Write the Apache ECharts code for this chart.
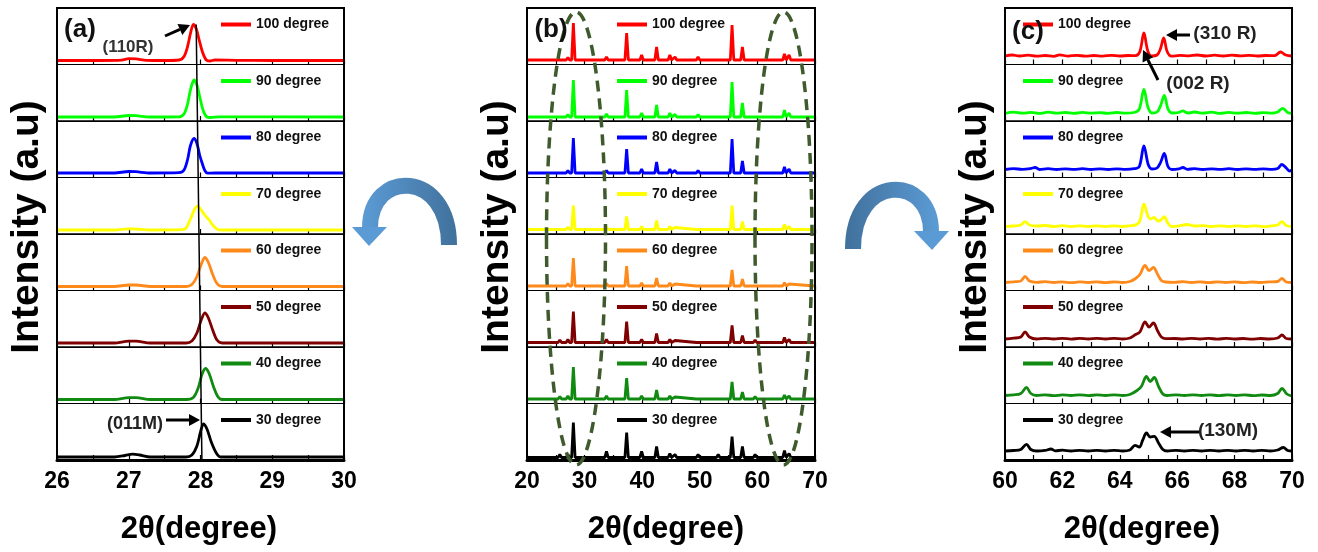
<!DOCTYPE html>
<html><head><meta charset="utf-8">
<script src="https://cdn.jsdelivr.net/npm/echarts@6/dist/echarts.min.js"></script>
<style>html,body{margin:0;padding:0;background:#fff}#c{width:1318px;height:552px}</style>
</head><body><div id="c"></div><script>
// ---------------- DATA ----------------
const temps = ['100 degree','90 degree','80 degree','70 degree','60 degree','50 degree','40 degree','30 degree'];
const colors = ['#ff0000','#00ff00','#0000ff','#ffff00','#ff8a1c','#7f0000','#108a10','#000000'];
const ticksA = ['26','27','28','29','30'];
const ticksB = ['20','30','40','50','60','70'];
const ticksC = ['60','62','64','66','68','70'];

// panel (a): 2theta 26-30 (intensity a.u.)
const a100 = [[26,4],[26.6,4],[26.9,4.3],[27.0,5.8],[27.1,5.6],[27.25,4.2],[27.5,4],[27.7,4.5],[27.77,8],[27.82,18],[27.86,31],[27.9,40],[27.94,36],[27.98,25],[28.03,12],[28.08,4.5],[28.13,3.5],[28.2,4.5],[28.5,4.2],[29,4],[30,4]];
const a90 = [[26,4],[26.8,4],[27.0,5.5],[27.1,5.3],[27.3,4],[27.7,4.2],[27.77,7],[27.82,17],[27.86,31],[27.91,41],[27.95,36],[27.99,24],[28.04,10],[28.09,4],[28.14,3.5],[28.25,4.2],[30,4]];
const a80 = [[26,4.5],[26.8,4.5],[27.0,6],[27.1,5.8],[27.3,4.5],[27.7,4.8],[27.77,7.5],[27.82,18],[27.86,32],[27.91,39],[27.95,34],[27.99,22],[28.02,15],[28.06,7],[28.1,4.3],[28.2,4.5],[30,4.5]];
const a70 = [[26,4],[26.8,4],[27.0,5.2],[27.1,5],[27.3,4],[27.74,4.3],[27.8,6],[27.86,15],[27.92,25],[27.96,28],[28.0,25],[28.06,19],[28.12,14],[28.18,8],[28.24,4.5],[28.3,4],[30,4]];
const a60 = [[26,4],[26.8,4],[27.0,5.5],[27.1,5.5],[27.3,4],[27.8,4],[27.88,6],[27.95,14],[28.01,26],[28.06,33],[28.11,28],[28.17,16],[28.23,7],[28.3,4],[30,4]];
const a50 = [[26,4],[26.8,4],[27.0,5.8],[27.1,5.8],[27.3,4],[27.8,4],[27.88,6],[27.95,14],[28.01,27],[28.06,34],[28.11,29],[28.17,17],[28.23,7],[28.3,4],[30,4]];
const a40 = [[26,4],[26.8,4],[27.0,5.8],[27.1,5.8],[27.3,4],[27.8,4],[27.9,6],[27.97,16],[28.02,29],[28.07,35],[28.12,30],[28.18,17],[28.24,7],[28.3,4],[30,4]];
const a30 = [[26,3],[26.8,3],[26.95,4.5],[27.05,5.8],[27.15,5],[27.3,3],[27.8,3],[27.88,5],[27.95,14],[28.0,28],[28.04,36],[28.09,31],[28.15,18],[28.22,7],[28.28,3],[30,3]];

// panel (b): 2theta 20-70, peak positions and peak heights above baseline
const peaksB = [25.7,27.1,28.05,30.2,33.8,37.3,39.9,42.5,44.8,45.7,49.7,53.2,55.6,57.4,59.6,64.7,65.5];
const b100 = [2,2.5,37,1.5,3,27,5,13,5,3,3,1.5,35,13,2,6,5];
const b90  = [2,2.5,37,1.5,3,27,4,12,4,2.5,2.5,1.5,35,14,2,7,4];
const b80  = [2,2.5,35,1.5,2.5,24,4,11,4,2.5,2.5,1.5,34,12,2,6,4];
const b70  = [2,2.5,24,1.5,2.5,13,3,9,3,2,2,1.5,24,8,2,5,3];
const b60  = [2,2.5,28,1.5,2.5,20,3,8,3,2,2,1.5,16,7,2,3.5,2];
const b50  = [2.5,3,31,1.5,3,21,3,9,3,2,2,2,17,7,2.5,5,3];
const b40  = [2.5,3,32,1.5,3,21,3,9,3,2,2,2,17,7,2.5,4,3];
const b30  = [3,3,35,1.5,6,25,6,11,4,3,3,3,21,11,3,7,4];
const baseB = [4.5,4,4.5,4.5,4.5,4.5,4.5,2.5];

// panel (c): 2theta 60-70
const c100 = [[60,8.5],[60.25,9.5],[60.5,8.5],[60.8,9.3],[61.1,8.3],[61.4,9],[61.7,8.2],[61.9,9.6],[62.2,8.4],[62.5,9.2],[62.8,8.3],[63.1,9],[63.4,8.4],[63.7,9.2],[64.0,8.5],[64.3,9],[64.55,8.8],[64.7,13],[64.84,31.5],[64.97,14],[65.1,8.5],[65.3,9.5],[65.42,16],[65.53,26.5],[65.65,13],[65.8,8.3],[66.1,9.2],[66.4,8.6],[66.7,9.5],[67.0,8.5],[67.3,9.3],[67.6,8.5],[67.9,9.4],[68.2,8.6],[68.5,9.2],[68.8,8.5],[69.1,9],[69.4,8.8],[69.6,12.5],[69.78,9.5],[70,8.5]];
const c90 = [[60,7.7],[60.3,8.8],[60.6,7.8],[60.9,8.6],[61.2,7.6],[61.5,8.8],[61.8,7.8],[62.1,8.5],[62.4,7.6],[62.7,8.6],[63.0,7.8],[63.3,8.4],[63.6,7.6],[63.9,8.5],[64.2,7.8],[64.5,8.5],[64.68,12],[64.84,31.7],[64.98,14],[65.12,8],[65.3,9],[65.43,16],[65.55,25.7],[65.68,12],[65.82,8],[66.05,8.5],[66.2,10.2],[66.35,8],[66.6,9],[66.9,7.8],[67.2,8.8],[67.5,7.6],[67.8,8.6],[68.1,7.8],[68.4,8.5],[68.7,7.6],[69.0,8.4],[69.3,7.8],[69.5,9],[69.68,12.7],[69.85,8.5],[70,7.7]];
const c80 = [[60,8],[60.3,8.8],[60.6,8.2],[60.9,9],[61.05,10],[61.2,8],[61.5,8.8],[61.8,8],[62.1,8.7],[62.4,8.1],[62.7,8.8],[63.0,8],[63.3,8.6],[63.6,8],[63.9,8.7],[64.2,8.1],[64.5,8.8],[64.68,11],[64.84,31.6],[64.99,13],[65.12,8.5],[65.3,9.5],[65.42,15],[65.55,24],[65.68,11],[65.82,8],[66.05,8.6],[66.2,10],[66.35,8.2],[66.6,8.8],[66.9,8],[67.2,8.7],[67.5,8.1],[67.8,8.8],[68.1,8],[68.4,8.6],[68.7,8.1],[69.0,8.7],[69.3,8.1],[69.5,9],[69.65,13],[69.8,9.5],[69.92,6.5],[70,7.5]];
const c70 = [[60,7.3],[60.3,8],[60.55,9],[60.7,12.3],[60.85,9],[61.1,8],[61.4,8.5],[61.7,7.5],[62.0,8.3],[62.3,7.4],[62.6,8.2],[62.9,7.5],[63.2,8.2],[63.5,7.4],[63.8,8.2],[64.1,7.5],[64.4,8.3],[64.58,9.5],[64.7,13],[64.84,30],[64.98,18],[65.08,15],[65.2,16.7],[65.32,13],[65.43,14],[65.55,17.3],[65.67,11],[65.8,7.5],[66.1,8.3],[66.35,9.5],[66.6,8],[66.9,8.4],[67.2,7.5],[67.5,8.2],[67.8,7.4],[68.1,8.2],[68.4,7.5],[68.7,8.2],[69.0,7.4],[69.3,8.2],[69.5,9],[69.65,12.3],[69.8,8.5],[70,7.3]];
const c60 = [[60,8],[60.3,8.7],[60.55,9.5],[60.7,14],[60.85,9.5],[61.1,8.2],[61.4,8.8],[61.7,8],[62.0,8.6],[62.3,7.8],[62.6,8.6],[62.9,8],[63.2,8.6],[63.5,7.9],[63.8,8.6],[64.1,8],[64.35,9],[64.55,12],[64.7,16],[64.88,25],[65.02,20],[65.17,23],[65.32,16],[65.45,10],[65.6,8.5],[65.9,8.2],[66.2,8.8],[66.5,8],[66.8,8.6],[67.1,7.9],[67.4,8.6],[67.7,8],[68.0,8.6],[68.3,7.9],[68.6,8.5],[68.9,8],[69.2,8.6],[69.5,9],[69.65,12],[69.8,8.5],[70,8]];
const c50 = [[60,8],[60.3,8.8],[60.55,10],[60.7,15],[60.85,10],[61.1,8],[61.4,8.7],[61.7,8],[62.0,8.7],[62.3,7.9],[62.6,8.6],[62.9,8],[63.2,8.6],[63.5,8],[63.8,8.6],[64.1,8],[64.35,9],[64.55,12.5],[64.7,15],[64.88,25],[65.02,20],[65.17,24],[65.32,16],[65.45,10],[65.6,8.3],[65.9,8.5],[66.2,8],[66.5,8.7],[66.8,8],[67.1,8.6],[67.4,7.9],[67.7,8.6],[68.0,8],[68.3,8.5],[68.6,7.9],[68.9,8.5],[69.2,8],[69.5,9],[69.65,12],[69.8,8.5],[70,8]];
const c40 = [[60,8],[60.3,8.6],[60.55,10],[60.75,16],[60.9,10],[61.1,8],[61.4,8.7],[61.7,7.8],[62.0,8.6],[62.3,8],[62.6,8.7],[62.9,7.9],[63.2,8.6],[63.5,8],[63.8,8.7],[64.1,8],[64.35,9],[64.6,13],[64.75,17],[64.93,27],[65.06,22],[65.2,26],[65.35,17],[65.5,9.5],[65.65,8],[65.95,8.6],[66.25,8],[66.55,8.7],[66.85,8],[67.15,8.6],[67.45,7.9],[67.75,8.6],[68.05,8],[68.35,8.6],[68.65,7.9],[68.95,8.5],[69.25,8],[69.5,10],[69.65,15],[69.82,9.5],[70,7.5]];
const c30 = [[60,9],[60.3,9.5],[60.55,10.5],[60.75,15.7],[60.9,10.5],[61.1,9],[61.4,9.6],[61.6,11],[61.75,9.2],[62.0,9.8],[62.3,9],[62.6,9.7],[62.9,9],[63.2,9.6],[63.5,9],[63.8,9.7],[64.1,9],[64.35,10],[64.53,14.7],[64.68,13],[64.8,20],[64.93,27],[65.06,23],[65.2,23.7],[65.35,17],[65.5,10.5],[65.65,9],[65.95,9.7],[66.25,9],[66.55,9.7],[66.85,9],[67.15,9.6],[67.45,9],[67.75,9.6],[68.05,9],[68.35,9.6],[68.65,9],[68.95,9.6],[69.25,9],[69.5,10],[69.7,12.5],[69.85,9.5],[70,9]];

// ---------------- BUILD ----------------
const FONT = 'Liberation Sans, Arial, Helvetica, sans-serif';
const TOP = 8, SUBH = 56.5, NSUB = 8;
const bHeights = [b100,b90,b80,b70,b60,b50,b40,b30];
const bTraces = bHeights.map((hs, t) => {
  const base = baseB[t];
  const pts = [[20, base]];
  peaksB.forEach((p, k) => { pts.push([p - 0.3, base], [p, base + hs[k]], [p + 0.3, base]); });
  pts.push([70, base]);
  return pts;
});
const panels = [
  {left:57, width:287, min:26, max:30, interval:0.5, ticks:ticksA, traces:[a100,a90,a80,a70,a60,a50,a40,a30], smooth:0.3, legX:164, yLabX:27, xLabX:199},
  {left:527, width:288, min:20, max:70, interval:5, ticks:ticksB, traces:bTraces, smooth:false, legX:90, yLabX:497, xLabX:666},
  {left:1005, width:287, min:60, max:70, interval:1, ticks:ticksC, traces:[c100,c90,c80,c70,c60,c50,c40,c30], smooth:0.35, legX:18, yLabX:975, xLabX:1142}
];

const grids = [], xAxes = [], yAxes = [], series = [], graphics = [];
panels.forEach((P, pi) => {
  for (let i = 0; i < NSUB; i++) {
    const idx = grids.length;
    const last = i === NSUB - 1;
    grids.push({left:P.left, top:TOP + i*SUBH, width:P.width, height:SUBH, show:true, borderColor:'#000', borderWidth:1, outerBoundsMode:'none', containLabel:false});
    xAxes.push({gridIndex:idx, type:'value', min:P.min, max:P.max, interval:P.interval,
      axisLine:{show:true, onZero:false, lineStyle:{color:'#000', width: last ? 3 : 1}},
      axisTick:{show:true, inside:true, length:5, lineStyle:{color:'#000', width:1.2}},
      splitLine:{show:false},
      axisLabel:{show:last, showMinLabel:true, showMaxLabel:true, margin:10, color:'#000', fontFamily:FONT, fontWeight:'bold', fontSize:23,
        formatter: v => { const s = String(Math.round(v*100)/100); return P.ticks.indexOf(s) >= 0 ? s : ''; }}
    });
    yAxes.push({gridIndex:idx, type:'value', min:0, max:SUBH, show:false});
    series.push({type:'line', name:temps[i], xAxisIndex:idx, yAxisIndex:idx, data:P.traces[i], showSymbol:false, symbol:'none',
      smooth:P.smooth, lineStyle:{color:colors[i], width:2.8}, silent:true, animation:false, z:3});
    // legend sample + text
    const ly = TOP + i*SUBH + 16.5;
    graphics.push({type:'line', z:50, shape:{x1:P.left+P.legX, y1:ly, x2:P.left+P.legX+30, y2:ly}, style:{stroke:colors[i], lineWidth:4}});
    graphics.push({type:'text', z:51, style:{text:temps[i], x:P.left+P.legX+35, y:ly, fill:'#111', font:'bold 14px ' + FONT, textAlign:'left', textVerticalAlign:'middle'}});
  }
  // outer frame
  graphics.push({type:'rect', z:40, shape:{x:P.left, y:TOP, width:P.width, height:SUBH*NSUB}, style:{fill:null, stroke:'#000', lineWidth:2}});
  // axis titles
  graphics.push({type:'text', z:60, x:P.yLabX, y:227, rotation:Math.PI/2, style:{text:'Intensity (a.u)', x:0, y:0, fill:'#000', font:'bold 39px ' + FONT, textAlign:'center', textVerticalAlign:'middle'}});
  graphics.push({type:'text', z:60, style:{text:'2θ(degree)', x:P.xLabX, y:529, fill:'#000', font:'bold 31px ' + FONT, textAlign:'center', textVerticalAlign:'middle'}});
});

// panel letters and annotations
function txt(t, x, y, size, color) {
  graphics.push({type:'text', z:70, style:{text:t, x:x, y:y, fill:color || '#1a1a1a', font:'bold ' + size + 'px ' + FONT, textAlign:'center', textVerticalAlign:'middle'}});
}
function arrow(x1, y1, x2, y2) {
  const a = Math.atan2(y2 - y1, x2 - x1), hl = 11, hw = 6;
  const bx = x2 - hl*Math.cos(a), by = y2 - hl*Math.sin(a);
  graphics.push({type:'line', z:70, shape:{x1:x1, y1:y1, x2:bx, y2:by}, style:{stroke:'#000', lineWidth:3}});
  graphics.push({type:'polygon', z:70, shape:{points:[[x2,y2],[bx - hw*Math.sin(a), by + hw*Math.cos(a)],[bx + hw*Math.sin(a), by - hw*Math.cos(a)]]}, style:{fill:'#000'}});
}
txt('(a)', 80, 30, 26, '#111');
txt('(b)', 551, 30, 26, '#111');
txt('(c)', 1028, 32, 26, '#111');
txt('(110R)', 128, 47, 17, '#333');
arrow(165, 36, 190, 25);
txt('(011M)', 135, 424, 18, '#222');
arrow(166, 420, 200, 420);
txt('(310 R)', 1225, 34, 19, '#222');
arrow(1190, 35, 1166, 35);
txt('(002 R)', 1198, 84, 19, '#222');
arrow(1158, 80, 1143, 50);
txt('(130M)', 1228, 431, 19, '#222');
arrow(1199, 432, 1160, 432);

// dashed ellipses in (b)
graphics.push({type:'ellipse', z:65, shape:{cx:576, cy:238.5, rx:29.5, ry:226.5}, style:{fill:null, stroke:'#3f5a2c', lineWidth:3.5, lineDash:[11,7]}});
graphics.push({type:'ellipse', z:65, shape:{cx:783.5, cy:238.5, rx:28.5, ry:226.5}, style:{fill:null, stroke:'#3f5a2c', lineWidth:3.5, lineDash:[11,7]}});

// curved blue arrows
graphics.push({type:'bezierCurve', z:20, shape:{x1:449, y1:245, cpx1:449, cpy1:169, cpx2:370, cpy2:169, x2:370, y2:228},
  style:{fill:null, lineWidth:16, stroke:new echarts.graphic.LinearGradient(0,0,1,0,[{offset:0,color:'#5b9bd5'},{offset:1,color:'#41719c'}])}});
graphics.push({type:'polygon', z:21, shape:{points:[[352,227],[387,227],[369,246]]}, style:{fill:'#5b9bd5'}});
graphics.push({type:'bezierCurve', z:20, shape:{x1:853, y1:249, cpx1:853, cpy1:173, cpx2:931, cpy2:173, x2:931, y2:232},
  style:{fill:null, lineWidth:16, stroke:new echarts.graphic.LinearGradient(0,0,1,0,[{offset:0,color:'#41719c'},{offset:1,color:'#5b9bd5'}])}});
graphics.push({type:'polygon', z:21, shape:{points:[[914,231],[949,231],[932,250]]}, style:{fill:'#5b9bd5'}});

const chart = echarts.init(document.getElementById('c'), null, {renderer:'canvas'});
chart.setOption({animation:false, backgroundColor:'#fff', grid:grids, xAxis:xAxes, yAxis:yAxes, series:series, graphic:{elements:graphics}});

// reference line in (a): from (110R) peak to (011M) peak
const pTop = chart.convertToPixel({xAxisIndex:0, yAxisIndex:0}, [27.94, 40]);
const pBot = chart.convertToPixel({xAxisIndex:7, yAxisIndex:7}, [28.02, 0]);
graphics.push({type:'line', z:30, shape:{x1:pTop[0], y1:pTop[1], x2:pBot[0], y2:pBot[1] + 2}, style:{stroke:'#000', lineWidth:1.5}});
chart.setOption({graphic:{elements:graphics}}, {replaceMerge:['graphic']});
</script></body></html>
